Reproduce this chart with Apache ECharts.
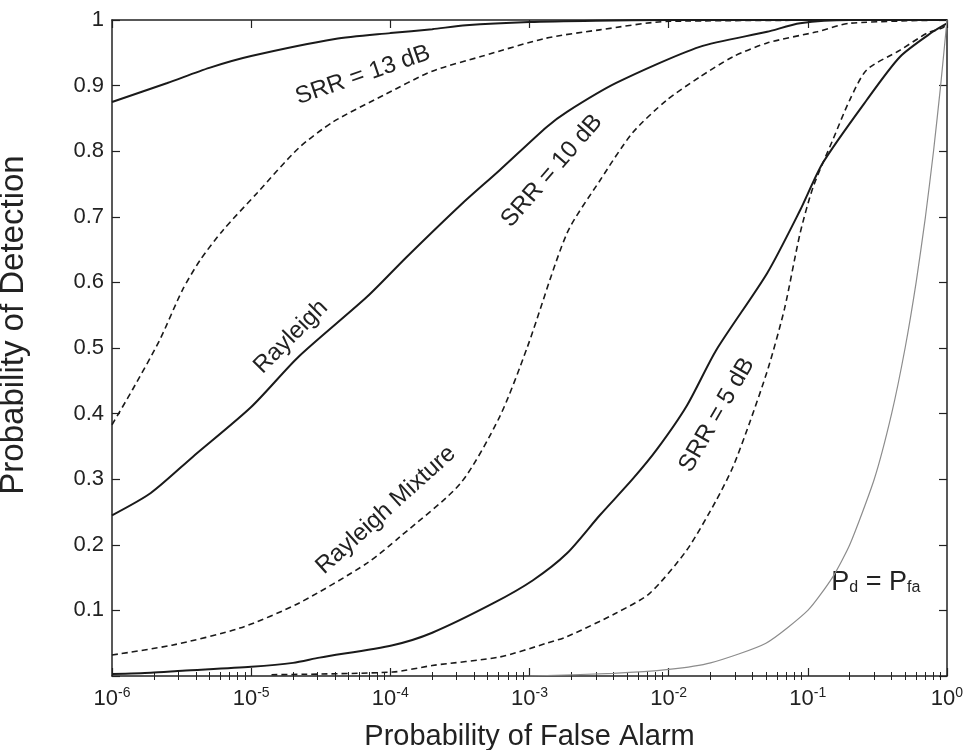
<!DOCTYPE html>
<html>
<head>
<meta charset="utf-8">
<title>ROC curves</title>
<script src="https://cdn.jsdelivr.net/npm/echarts@6.0.0/dist/echarts.min.js"></script>
<style>
  html, body { margin: 0; padding: 0; background: #fff; }
  #chart { width: 967px; height: 750px; }
</style>
</head>
<body>
<div id="chart"></div>
<script>
// probability of false alarm (x) / probability of detection (y)
const ray13Pfa = [1e-6, 2.5e-6, 5e-6, 1e-5, 4e-5, 1e-4, 2e-4, 3.5e-4, 1e-3, 3e-3, 1e-2, 1];
const ray13Pd = [0.875, 0.904, 0.927, 0.945, 0.971, 0.98, 0.986, 0.992, 0.997, 0.999, 1.0, 1.0];

const mix13Pfa = [1e-6, 1.4e-6, 2.2e-6, 3.2e-6, 4.3e-6, 6.3e-6, 1.1e-5, 2.2e-5, 3.9e-5, 8.9e-5, 2e-4, 4.6e-4, 1.3e-3, 3.2e-3, 1e-2, 1];
const mix13Pd = [0.383, 0.436, 0.512, 0.588, 0.634, 0.68, 0.736, 0.805, 0.845, 0.885, 0.922, 0.945, 0.972, 0.985, 0.998, 1.0];

const ray10Pfa = [1e-6, 1.9e-6, 3.8e-6, 1e-5, 2.2e-5, 6.8e-5, 1.3e-4, 3.2e-4, 6.1e-4, 1.33e-3, 1.86e-3, 4.2e-3, 1.67e-2, 5.1e-2, 8.8e-2, 0.2, 1];
const ray10Pd = [0.245, 0.279, 0.334, 0.41, 0.487, 0.578, 0.638, 0.718, 0.771, 0.837, 0.86, 0.904, 0.959, 0.982, 0.995, 1.0, 1.0];

const mix10Pfa = [1e-6, 2.7e-6, 8.3e-6, 2.2e-5, 6.8e-5, 1.17e-4, 3.2e-4, 6.1e-4, 9.6e-4, 1.86e-3, 3.2e-3, 5.5e-3, 9.7e-3, 1.67e-2, 2.9e-2, 5.1e-2, 0.116, 0.2, 1];
const mix10Pd = [0.032, 0.047, 0.073, 0.111, 0.172, 0.212, 0.294, 0.395, 0.5, 0.675, 0.755, 0.828, 0.878, 0.913, 0.944, 0.965, 0.982, 0.995, 1.0];

const ray5Pfa = [1e-6, 1.9e-6, 3.2e-6, 1e-5, 2e-5, 3.1e-5, 1.04e-4, 2e-4, 5.5e-4, 1.06e-3, 1.86e-3, 3.2e-3, 5.5e-3, 8.2e-3, 1.35e-2, 2.2e-2, 5.1e-2, 8.8e-2, 0.128, 0.265, 0.46, 0.79, 1];
const ray5Pd = [0.003, 0.005, 0.008, 0.014, 0.02, 0.028, 0.047, 0.066, 0.111, 0.146, 0.187, 0.245, 0.3, 0.345, 0.412, 0.497, 0.614, 0.71, 0.782, 0.878, 0.944, 0.982, 0.995];

const mix5Pfa = [1.4e-5, 1.04e-4, 2e-4, 6.1e-4, 1.33e-3, 1.86e-3, 4.2e-3, 7.3e-3, 1.35e-2, 2.2e-2, 2.9e-2, 3.8e-2, 5.2e-2, 6.8e-2, 8.8e-2, 0.109, 0.151, 0.2, 0.265, 0.46, 0.72, 0.93, 1];
const mix5Pd = [0.002, 0.006, 0.016, 0.029, 0.05, 0.06, 0.096, 0.126, 0.192, 0.268, 0.319, 0.385, 0.47, 0.56, 0.675, 0.745, 0.817, 0.878, 0.924, 0.954, 0.98, 0.988, 0.995];

const chancePfa = [1e-3, 4e-3, 1e-2, 2e-2, 5e-2, 0.1, 0.15, 0.2, 0.3, 0.4, 0.5, 0.6, 0.7, 0.8, 0.9, 1];
const chancePd = [0.0, 0.004, 0.01, 0.02, 0.05, 0.1, 0.15, 0.2, 0.3, 0.4, 0.5, 0.6, 0.7, 0.8, 0.9, 1.0];

const xMajorTicks = [1e-6, 1e-5, 1e-4, 1e-3, 1e-2, 1e-1, 1];
const xMinorTicks = [];
xMajorTicks.slice(0, -1).forEach(function (d) {
  for (let k = 2; k <= 9; k++) xMinorTicks.push(d * k);
});

// curve annotations: [text, pfa, pd, angle in degrees]
const annotations = [
  ["SRR = 13 dB", 6.35e-5, 0.916, 19],
  ["SRR = 10 dB", 1.45e-3, 0.77, 49],
  ["Rayleigh", 1.93e-5, 0.517, 45],
  ["Rayleigh Mixture", 9.3e-5, 0.253, 42],
  ["SRR = 5 dB", 2.22e-2, 0.398, 60],
];

const FONT = "'Liberation Sans', Arial, Helvetica, sans-serif";
const INK = "#222";

function zip(xs, ys) {
  return xs.map(function (x, i) { return [x, ys[i]]; });
}

function curve(name, xs, ys, dashed) {
  return {
    name: name,
    type: "line",
    xAxisIndex: 0,
    yAxisIndex: 0,
    data: zip(xs, ys),
    symbol: "none",
    smooth: 0.25,
    silent: true,
    lineStyle: {
      color: "#1a1a1a",
      width: dashed ? 1.6 : 2,
      type: dashed ? [6, 4] : "solid",
    },
  };
}

const chart = echarts.init(document.getElementById("chart"));

const xBase = {
  type: "log",
  logBase: 10,
  min: 1e-6,
  max: 1,
  splitLine: { show: false },
  axisLine: { show: true, onZero: false, lineStyle: { color: INK, width: 1.5 } },
};

const option = {
  backgroundColor: "#fff",
  animation: false,
  textStyle: { fontFamily: FONT },
  grid: {
    left: 112,
    right: 20,
    top: 20,
    bottom: 74,
    outerBoundsMode: "none",
    containLabel: false,
  },
  xAxis: [
    Object.assign({}, xBase, {
      position: "bottom",
      interval: 1,
      name: "Probability of False Alarm",
      nameLocation: "middle",
      nameGap: 46,
      nameTextStyle: { fontSize: 29, color: INK, fontFamily: FONT },
      axisTick: { inside: true, length: 8, customValues: xMajorTicks, lineStyle: { color: INK, width: 1.2 } },
      axisLabel: {
        customValues: xMajorTicks,
        margin: 10,
        color: INK,
        formatter: function (v) {
          return "{b|10}{s|" + Math.round(Math.log10(v)) + "}";
        },
        rich: {
          b: { fontSize: 22, lineHeight: 26, fontFamily: FONT, color: INK },
          s: { fontSize: 14, lineHeight: 14, verticalAlign: "top", fontFamily: FONT, color: INK },
        },
      },
    }),
    Object.assign({}, xBase, {
      position: "top",
      interval: 1,
      axisTick: { inside: true, length: 8, customValues: xMajorTicks, lineStyle: { color: INK, width: 1.2 } },
      axisLabel: { show: false },
    }),
    Object.assign({}, xBase, {
      position: "bottom",
      axisLine: { show: false },
      axisTick: { inside: true, length: 4, customValues: xMinorTicks, lineStyle: { color: INK, width: 1 } },
      axisLabel: { show: false },
    }),
    Object.assign({}, xBase, {
      position: "top",
      axisLine: { show: false },
      axisTick: { inside: true, length: 4, customValues: xMinorTicks, lineStyle: { color: INK, width: 1 } },
      axisLabel: { show: false },
    }),
  ],
  yAxis: [
    {
      type: "value",
      position: "left",
      min: 0,
      max: 1,
      interval: 0.1,
      name: "Probability of Detection",
      nameLocation: "middle",
      nameGap: 82,
      nameTextStyle: { fontSize: 33, color: INK, fontFamily: FONT, padding: [0, 0, 0, 46] },
      splitLine: { show: false },
      axisLine: { show: true, onZero: false, lineStyle: { color: INK, width: 1.5 } },
      axisTick: { inside: true, length: 8, lineStyle: { color: INK, width: 1.2 } },
      axisLabel: {
        fontSize: 22,
        color: INK,
        margin: 8,
        formatter: function (v) {
          return v === 0 ? "" : String(+v.toFixed(1));
        },
      },
    },
    {
      type: "value",
      position: "right",
      min: 0,
      max: 1,
      interval: 0.1,
      splitLine: { show: false },
      axisLine: { show: true, onZero: false, lineStyle: { color: INK, width: 1.5 } },
      axisTick: { inside: true, length: 8, lineStyle: { color: INK, width: 1.2 } },
      axisLabel: { show: false },
    },
  ],
  series: [
    curve("Rayleigh 13 dB", ray13Pfa, ray13Pd, false),
    curve("Mixture 13 dB", mix13Pfa, mix13Pd, true),
    curve("Rayleigh 10 dB", ray10Pfa, ray10Pd, false),
    curve("Mixture 10 dB", mix10Pfa, mix10Pd, true),
    curve("Rayleigh 5 dB", ray5Pfa, ray5Pd, false),
    curve("Mixture 5 dB", mix5Pfa, mix5Pd, true),
    {
      name: "Pd = Pfa",
      type: "line",
      data: zip(chancePfa, chancePd),
      symbol: "none",
      smooth: 0.2,
      silent: true,
      lineStyle: { color: "#8c8c8c", width: 1.2 },
    },
  ],
};
chart.setOption(option);

// place the curve labels in data coordinates
const graphics = annotations.map(function (a) {
  const p = chart.convertToPixel({ xAxisIndex: 0, yAxisIndex: 0 }, [a[1], a[2]]);
  return {
    type: "text",
    x: p[0],
    y: p[1],
    rotation: (a[3] * Math.PI) / 180,
    silent: true,
    style: {
      text: a[0],
      fontSize: 24,
      fontFamily: FONT,
      fill: INK,
      align: "center",
      verticalAlign: "middle",
    },
  };
});
const pdPos = chart.convertToPixel({ xAxisIndex: 0, yAxisIndex: 0 }, [0.308, 0.145]);
graphics.push({
  type: "text",
  x: pdPos[0],
  y: pdPos[1],
  silent: true,
  style: {
    text: "{m|P}{d|d}{m| = P}{d|fa}",
    align: "center",
    verticalAlign: "middle",
    rich: {
      m: { fontSize: 27, lineHeight: 30, fontFamily: FONT, fill: INK, verticalAlign: "bottom" },
      d: { fontSize: 16, lineHeight: 15, fontFamily: FONT, fill: INK, verticalAlign: "bottom" },
    },
  },
});
chart.setOption({ graphic: graphics });

window.addEventListener("resize", function () {
  chart.resize();
});
</script>
</body>
</html>
